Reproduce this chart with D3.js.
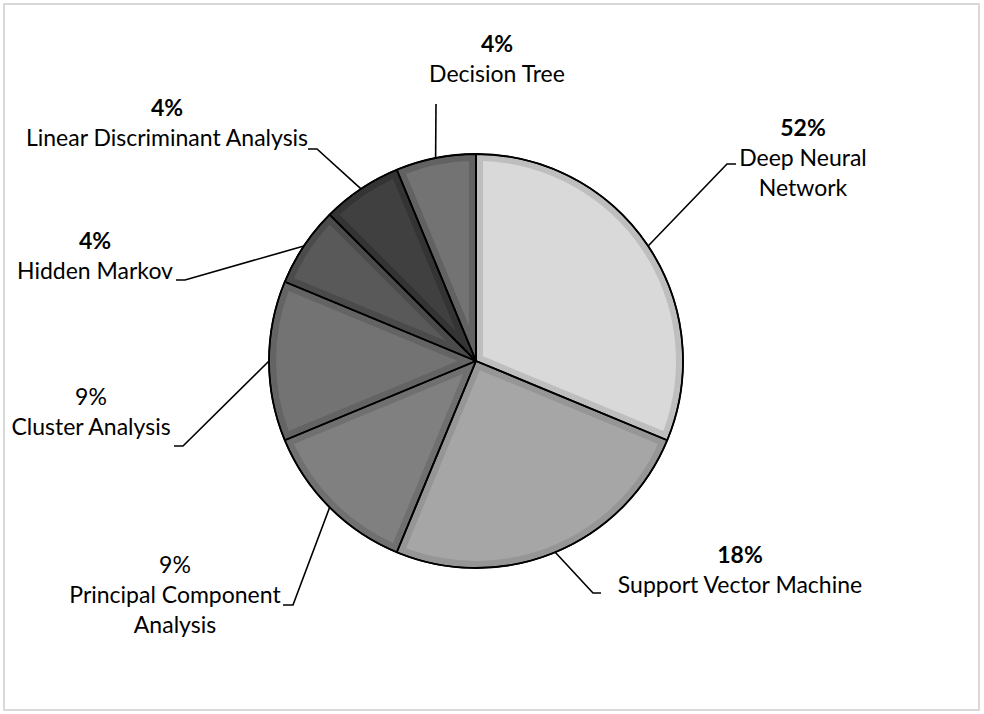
<!DOCTYPE html>
<html><head><meta charset="utf-8">
<script src="https://cdn.jsdelivr.net/npm/d3@7"></script>
<style>body{margin:0;background:#fff} svg{display:block}</style>
</head><body>
<svg id="c" width="984" height="714"></svg>
<script>
// ---- data ----
const categories = ["Deep Neural Network","Support Vector Machine","Principal Component Analysis","Cluster Analysis","Hidden Markov","Linear Discriminant Analysis","Decision Tree"];
const values = [5, 4, 2, 2, 1, 1, 1];
const pctLabels = ["52%","18%","9%","9%","4%","4%","4%"];
const pctBold = [true, true, false, false, true, true, true];
const labelLines = [["Deep Neural","Network"],["Support Vector Machine"],["Principal Component","Analysis"],["Cluster Analysis"],["Hidden Markov"],["Linear Discriminant Analysis"],["Decision Tree"]];
const fills  = ["#d9d9d9","#a6a6a6","#808080","#737373","#595959","#404040","#737373"];
const bevels = ["#bebebe","#969696","#707070","#646464","#4b4b4b","#343434","#626262"];

// ---- layout ----
const W = 984, H = 714;
const cx = 476, cy = 361, R = 207, bevel = 7;
const fontFam = "Lato, 'Open Sans', sans-serif";
const fontSize = 23, lineGap = 30;
const labelLayout = [
  {x: 803, y: 136, elbow: [727,164], end: [736,164]},
  {x: 740, y: 563, elbow: [593,593], end: [601,593]},
  {x: 175, y: 573, elbow: [293,605], end: [283,605]},
  {x: 91,  y: 405, elbow: [183,446], end: [174,446]},
  {x: 95,  y: 249, elbow: [185,280], end: [176,280]},
  {x: 167, y: 116, elbow: [317,149], end: [308,149]},
  {x: 497, y: 52,  elbow: null,      end: [436,104]}
];

const svg = d3.select("#c");
svg.append("rect").attr("x",4).attr("y",4).attr("width",975).attr("height",706)
  .attr("fill","#fff").attr("stroke","#d9d9d9").attr("stroke-width",2);

const pie = d3.pie().sort(null).value(d => d)(values);
const arc = d3.arc().innerRadius(0).outerRadius(R);
const g = svg.append("g").attr("transform", `translate(${cx},${cy})`);

function insetPath(d) {
  const h = (d.endAngle - d.startAngle) / 2, m = (d.startAngle + d.endAngle) / 2;
  const ad = bevel / Math.sin(Math.min(h, Math.PI/2));
  const Rp = R - bevel, off = Math.asin(bevel / Rp);
  const p = d3.path();
  p.moveTo(Math.sin(m) * ad, -Math.cos(m) * ad);
  p.arc(0, 0, Rp, d.startAngle + off - Math.PI/2, d.endAngle - off - Math.PI/2);
  p.closePath();
  return p.toString();
}

g.selectAll("path.outer").data(pie).join("path").attr("class","outer")
  .attr("d", arc).attr("fill", (d,i) => bevels[i]);
g.selectAll("path.inner").data(pie).join("path").attr("class","inner")
  .attr("d", insetPath).attr("fill", (d,i) => fills[i]);
g.selectAll("path.edge").data(pie).join("path").attr("class","edge")
  .attr("d", arc).attr("fill","none").attr("stroke","#000").attr("stroke-width",1.8)
  .attr("stroke-linejoin","round");
g.append("circle").attr("r", R).attr("fill","none").attr("stroke","#000").attr("stroke-width",1.5);

// leader lines
pie.forEach((d, i) => {
  const m = (d.startAngle + d.endAngle) / 2;
  const rim = [cx + Math.sin(m) * R, cy - Math.cos(m) * R];
  const L = labelLayout[i];
  const pts = [rim];
  if (L.elbow) pts.push(L.elbow);
  pts.push(L.end);
  svg.append("path").attr("d", d3.line()(pts)).attr("fill","none")
    .attr("stroke","#000").attr("stroke-width",1.6);
});

// labels
pie.forEach((d, i) => {
  const L = labelLayout[i];
  const t = svg.append("text").attr("text-anchor","middle")
    .attr("font-family", fontFam).attr("font-size", fontSize).attr("fill","#000");
  t.append("tspan").attr("x", L.x).attr("y", L.y)
    .attr("font-weight", pctBold[i] ? "bold" : "normal").text(pctLabels[i]);
  labelLines[i].forEach((ln, k) => {
    t.append("tspan").attr("x", L.x).attr("y", L.y + lineGap * (k + 1)).text(ln);
  });
});
</script>
</body></html>
